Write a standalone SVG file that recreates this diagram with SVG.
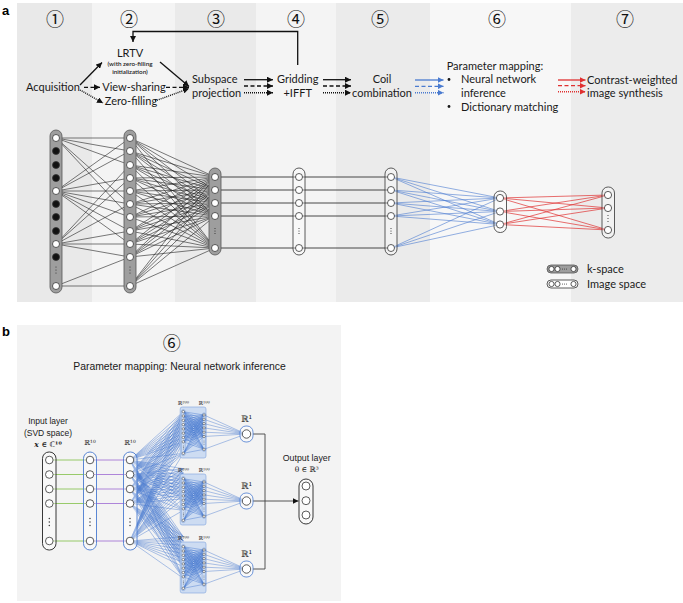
<svg xmlns="http://www.w3.org/2000/svg" xmlns:xlink="http://www.w3.org/1999/xlink" width="683" height="603" viewBox="0 0 683 603">
<defs>
<style>
.t{font-family:Lato,"Liberation Sans",sans-serif;font-size:11px;fill:#1a1a1a}
.tm{text-anchor:middle}
.sm{font-family:Lato,"Liberation Sans",sans-serif;font-size:6.3px;font-weight:600;fill:#1a1a1a;text-anchor:middle}
.cn{font-family:"Noto Sans CJK JP","DejaVu Sans",sans-serif;font-size:18px;text-anchor:middle;fill:#111}
.lbl{font-family:"Liberation Sans",Arial,sans-serif;font-weight:bold;font-size:13px;fill:#000}
.tb{font-family:"Liberation Sans",Arial,sans-serif;fill:#1a1a1a;text-anchor:middle}
.rr{font-family:"DejaVu Serif","DejaVu Sans",serif;fill:#222;text-anchor:middle}
.nd{fill:#fff;stroke:#333;stroke-width:0.8}
.nb{fill:#111;stroke:#333;stroke-width:0.8}
.kc{fill:#9e9e9e;stroke:#555;stroke-width:0.8}
.ic{fill:#fff;fill-opacity:0.35;stroke:#333;stroke-width:0.8}
.dt{fill:#333}
.ln{stroke:#222;stroke-width:0.6;fill:none}
.hl{stroke:#333;stroke-width:0.9;fill:none}
.bl{stroke:#4a7bd0;stroke-width:0.6;fill:none}
.rd{stroke:#e03030;stroke-width:0.7;fill:none}
.bb{stroke:#4a7bd0;stroke-width:0.45;fill:none;vector-effect:non-scaling-stroke}
.so{stroke:#111;stroke-width:1.3;fill:none}
.da{stroke:#111;stroke-width:1.3;fill:none;stroke-dasharray:4 2.5}
.do{stroke:#111;stroke-width:1.4;fill:none;stroke-dasharray:1 1}
.bs{fill:#fff;stroke:#333;stroke-width:0.5}
</style>
<marker id="ak" viewBox="0 0 6 6" refX="6" refY="3" markerUnits="userSpaceOnUse" markerWidth="6" markerHeight="6" orient="auto"><path d="M0 0L6 3L0 6z" fill="#111"/></marker>
<marker id="ab" viewBox="0 0 6 6" refX="6" refY="3" markerUnits="userSpaceOnUse" markerWidth="6" markerHeight="6" orient="auto"><path d="M0 0L6 3L0 6z" fill="#4a7bd0"/></marker>
<marker id="ar" viewBox="0 0 6 6" refX="6" refY="3" markerUnits="userSpaceOnUse" markerWidth="6" markerHeight="6" orient="auto"><path d="M0 0L6 3L0 6z" fill="#e03030"/></marker>
<path id="fanB" class="bb" d="M0 0L53.3 0M0 0L53.3 4.3M0 0L53.3 8.6M0 0L53.3 12.9M0 0L53.3 17.2M0 0L53.3 21.5M0 0L53.3 25.8M0 0L53.3 30.1M0 0L53.3 41.6"/>
<path id="fanIn" class="bb" d="M0 0L20.7 0M0 0L20.7 4.3M0 0L20.7 8.6M0 0L20.7 12.9M0 0L20.7 17.2M0 0L20.7 21.5M0 0L20.7 34.3"/>
<g id="blk">
<rect x="-0.8" y="0" width="25.8" height="51" rx="2" fill="#cddcf2" stroke="#7ea3dd" stroke-width="0.6"/>
<rect x="0.4" y="2.6" width="3.8" height="46" rx="1.9" fill="none" stroke="#5b86cf" stroke-width="0.4"/>
<rect x="21.1" y="5.9" width="3.8" height="38.5" rx="1.9" fill="none" stroke="#5b86cf" stroke-width="0.4"/>
<use xlink:href="#fanIn" transform="matrix(1,0.1594,0,1,2.3,4.7)"/>
<use xlink:href="#fanIn" transform="matrix(1,-0.0483,0,1,2.3,9)"/>
<use xlink:href="#fanIn" transform="matrix(1,-0.2560,0,1,2.3,13.3)"/>
<use xlink:href="#fanIn" transform="matrix(1,-0.4638,0,1,2.3,17.6)"/>
<use xlink:href="#fanIn" transform="matrix(1,-0.6715,0,1,2.3,21.9)"/>
<use xlink:href="#fanIn" transform="matrix(1,-0.8792,0,1,2.3,26.2)"/>
<use xlink:href="#fanIn" transform="matrix(1,-1.0870,0,1,2.3,30.5)"/>
<use xlink:href="#fanIn" transform="matrix(1,-1.2947,0,1,2.3,34.8)"/>
<use xlink:href="#fanIn" transform="matrix(1,-1.8502,0,1,2.3,46.3)"/>
<path class="bb" d="M23 8L65 27M23 12.3L65 27M23 16.6L65 27M23 20.9L65 27M23 25.2L65 27M23 29.5L65 27M23 42.3L65 27"/>
<g class="bs">
<circle cx="2.3" cy="4.7" r="1.2"/><circle cx="2.3" cy="9" r="1.2"/><circle cx="2.3" cy="13.3" r="1.2"/><circle cx="2.3" cy="17.6" r="1.2"/><circle cx="2.3" cy="21.9" r="1.2"/><circle cx="2.3" cy="26.2" r="1.2"/><circle cx="2.3" cy="30.5" r="1.2"/><circle cx="2.3" cy="34.8" r="1.2"/><circle cx="2.3" cy="46.3" r="1.2"/>
<circle cx="23" cy="8" r="1.2"/><circle cx="23" cy="12.3" r="1.2"/><circle cx="23" cy="16.6" r="1.2"/><circle cx="23" cy="20.9" r="1.2"/><circle cx="23" cy="25.2" r="1.2"/><circle cx="23" cy="29.5" r="1.2"/><circle cx="23" cy="42.3" r="1.2"/>
</g>
<g class="dt"><circle cx="2.3" cy="39" r="0.4"/><circle cx="2.3" cy="40.5" r="0.4"/><circle cx="2.3" cy="42" r="0.4"/><circle cx="23" cy="34" r="0.4"/><circle cx="23" cy="35.8" r="0.4"/><circle cx="23" cy="37.6" r="0.4"/></g>
<rect x="59" y="19" width="13" height="16" rx="6" fill="#fff" fill-opacity="0.5" stroke="#4a7bd0" stroke-width="0.8"/>
<circle cx="65.5" cy="27" r="4.2" fill="#fff" stroke="#333" stroke-width="0.8"/>
<text class="rr" x="2.3" y="-2" font-size="5.5">ℝ²⁰⁰</text>
<text class="rr" x="23" y="-2" font-size="5.5">ℝ¹⁰⁰</text>
<text class="rr" x="65.5" y="14.5" font-size="9">ℝ¹</text>
</g>
</defs>

<!-- Panel a background bands -->
<g id="bands">
<rect x="17" y="3" width="75" height="299" fill="#e9e9e9"/>
<rect x="92" y="3" width="83" height="299" fill="#f4f4f4"/>
<rect x="175" y="3" width="81" height="299" fill="#eaeaea"/>
<rect x="256" y="3" width="80" height="299" fill="#f4f4f4"/>
<rect x="336" y="3" width="94" height="299" fill="#ebebeb"/>
<rect x="430" y="3" width="141" height="299" fill="#f7f7f7"/>
<rect x="571" y="3" width="112" height="299" fill="#ececec"/>
</g>
<rect id="panel-b" x="17" y="325" width="324" height="276" fill="#f3f3f3"/>

<text class="lbl" x="2" y="15">a</text>
<text class="lbl" x="2" y="336">b</text>

<!-- Step numbers -->
<g id="steps">
<text class="cn" x="55" y="25.5">①</text>
<text class="cn" x="129" y="25.5">②</text>
<text class="cn" x="216" y="25.5">③</text>
<text class="cn" x="296" y="25.5">④</text>
<text class="cn" x="380" y="25.5">⑤</text>
<text class="cn" x="497" y="25.5">⑥</text>
<text class="cn" x="625" y="25.5">⑦</text>
</g>

<!-- Pipeline text nodes -->
<g id="n-acq"><text class="t" x="26" y="91">Acquisition</text></g>
<g id="n-lrtv"><text class="t tm" x="130" y="57">LRTV</text><text class="sm" x="130" y="66">(with zero-filling</text><text class="sm" x="130" y="74">initialization)</text></g>
<g id="n-vs"><text class="t tm" x="134" y="91" font-size="10.6">View-sharing</text></g>
<g id="n-zf"><text class="t tm" x="131" y="104.5" font-size="10.6">Zero-filling</text></g>
<g id="n-sub"><text class="t" x="192" y="83">Subspace</text><text class="t" x="192" y="96.5">projection</text></g>
<g id="n-grid"><text class="t tm" x="297.7" y="83">Gridding</text><text class="t tm" x="297.7" y="96.5">+IFFT</text></g>
<g id="n-coil"><text class="t tm" x="382" y="83">Coil</text><text class="t tm" x="382" y="96.5">combination</text></g>
<g id="n-pm"><text class="t" x="446.7" y="69.5">Parameter mapping:</text>
<circle cx="449" cy="79.5" r="1.4" fill="#1a1a1a"/><text class="t" x="461" y="83">Neural network</text>
<text class="t" x="461" y="96.5">inference</text>
<circle cx="449" cy="106.5" r="1.4" fill="#1a1a1a"/><text class="t" x="461" y="110.5">Dictionary matching</text></g>
<g id="n-cw"><text class="t" x="587" y="83.5">Contrast-weighted</text><text class="t" x="587" y="97">image synthesis</text></g>

<!-- Pipeline connectors -->
<g id="pipe-arrows">
<path class="so" d="M297.7 65V31.5H133V42" marker-end="url(#ak)"/>
<path class="so" d="M80 85L102 62.5" marker-end="url(#ak)"/>
<path class="da" d="M84 87.3H100" marker-end="url(#ak)"/>
<path class="do" d="M80 90L103 103" marker-end="url(#ak)"/>
<path class="so" d="M160 62L189 86.5" marker-end="url(#ak)"/>
<path class="da" d="M166 87.3H189" marker-end="url(#ak)"/>
<path class="do" d="M155 101L189 88.5" marker-end="url(#ak)"/>
<path class="so" d="M244 79.7H273" marker-end="url(#ak)"/>
<path class="da" d="M244 86H273" marker-end="url(#ak)"/>
<path class="do" d="M244 92.7H273" marker-end="url(#ak)"/>
<path class="so" d="M323 79.7H351" marker-end="url(#ak)"/>
<path class="da" d="M323 86H351" marker-end="url(#ak)"/>
<path class="do" d="M323 92.7H351" marker-end="url(#ak)"/>
<path class="so" style="stroke:#4a7bd0" d="M415 80H443.5" marker-end="url(#ab)"/>
<path class="da" style="stroke:#4a7bd0" d="M415 86.3H443.5" marker-end="url(#ab)"/>
<path class="do" style="stroke:#4a7bd0" d="M415 92.7H443.5" marker-end="url(#ab)"/>
<path class="so" style="stroke:#e03030" d="M558 80H585.5" marker-end="url(#ar)"/>
<path class="da" style="stroke:#e03030" d="M558 85.7H585.5" marker-end="url(#ar)"/>
<path class="do" style="stroke:#e03030" d="M558 91.7H585.5" marker-end="url(#ar)"/>
</g>

<!-- Network connectors (a) -->
<g id="net-a-edges">
<path class="ln" d="M56 138L130 138M56 138L130 151M56 138L130 165M56 138L130 204M56 138L130 217M56 191L130 138M56 191L130 151M56 191L130 178M56 191L130 191M56 191L130 204M56 191L130 217M56 191L130 231M56 191L130 244M56 244L130 165M56 244L130 178M56 244L130 204M56 244L130 231M56 244L130 244M56 244L130 257M56 286L130 257M56 286L130 286"/>
<path class="ln" d="M130 138L215 177M130 138L215 190M130 138L215 203M130 138L215 216M130 138L215 248M130 151L215 177M130 151L215 190M130 151L215 203M130 151L215 216M130 151L215 248M130 165L215 177M130 165L215 190M130 165L215 203M130 165L215 216M130 165L215 248M130 178L215 177M130 178L215 190M130 178L215 203M130 178L215 216M130 178L215 248M130 191L215 177M130 191L215 190M130 191L215 203M130 191L215 216M130 191L215 248M130 204L215 177M130 204L215 190M130 204L215 203M130 204L215 216M130 204L215 248M130 217L215 177M130 217L215 190M130 217L215 203M130 217L215 216M130 217L215 248M130 231L215 177M130 231L215 190M130 231L215 203M130 231L215 216M130 231L215 248M130 244L215 177M130 244L215 190M130 244L215 203M130 244L215 216M130 244L215 248M130 257L215 177M130 257L215 190M130 257L215 203M130 257L215 216M130 257L215 248M130 286L215 177M130 286L215 190M130 286L215 203M130 286L215 216M130 286L215 248"/>
<path class="hl" d="M215 177H391M215 190H391M215 203H391M215 216H391M215 248H391"/>
<path class="bl" d="M391 177L500 198M391 177L500 211.5M391 177L500 224.5M391 190L500 198M391 190L500 211.5M391 190L500 224.5M391 203L500 198M391 203L500 211.5M391 203L500 224.5M391 216L500 198M391 216L500 211.5M391 216L500 224.5M391 248L500 198M391 248L500 211.5M391 248L500 224.5"/>
<path class="rd" d="M500 198L608 195M500 198L608 208M500 198L608 230M500 211.5L608 195M500 211.5L608 208M500 211.5L608 230M500 224.5L608 195M500 224.5L608 208M500 224.5L608 230"/>
</g>

<!-- Network nodes (a) -->
<g id="a-col1">
<rect class="kc" x="50" y="130" width="12" height="163" rx="6"/>
<circle class="nd" cx="56" cy="138" r="3.5"/><circle class="nb" cx="56" cy="151" r="3.5"/><circle class="nb" cx="56" cy="165" r="3.5"/><circle class="nb" cx="56" cy="178" r="3.5"/><circle class="nd" cx="56" cy="191" r="3.5"/><circle class="nb" cx="56" cy="204" r="3.5"/><circle class="nb" cx="56" cy="217" r="3.5"/><circle class="nb" cx="56" cy="231" r="3.5"/><circle class="nd" cx="56" cy="244" r="3.5"/><circle class="nb" cx="56" cy="257" r="3.5"/><circle class="nd" cx="56" cy="286" r="3.5"/>
<g class="dt"><circle cx="56" cy="267" r="0.6"/><circle cx="56" cy="270" r="0.6"/><circle cx="56" cy="273" r="0.6"/></g>
</g>
<g id="a-col2">
<rect class="kc" x="124" y="130" width="12" height="163" rx="6"/>
<circle class="nd" cx="130" cy="138" r="3.5"/><circle class="nd" cx="130" cy="151" r="3.5"/><circle class="nd" cx="130" cy="165" r="3.5"/><circle class="nd" cx="130" cy="178" r="3.5"/><circle class="nd" cx="130" cy="191" r="3.5"/><circle class="nd" cx="130" cy="204" r="3.5"/><circle class="nd" cx="130" cy="217" r="3.5"/><circle class="nd" cx="130" cy="231" r="3.5"/><circle class="nd" cx="130" cy="244" r="3.5"/><circle class="nd" cx="130" cy="257" r="3.5"/><circle class="nd" cx="130" cy="286" r="3.5"/>
<g class="dt"><circle cx="130" cy="267" r="0.6"/><circle cx="130" cy="270" r="0.6"/><circle cx="130" cy="273" r="0.6"/></g>
</g>
<g id="a-col3">
<rect class="kc" x="209" y="168" width="12" height="87" rx="6"/>
<circle class="nd" cx="215" cy="177" r="3.5"/><circle class="nd" cx="215" cy="190" r="3.5"/><circle class="nd" cx="215" cy="203" r="3.5"/><circle class="nd" cx="215" cy="216" r="3.5"/><circle class="nd" cx="215" cy="248" r="3.5"/>
<g class="dt"><circle cx="215" cy="228.5" r="0.6"/><circle cx="215" cy="231" r="0.6"/><circle cx="215" cy="233.5" r="0.6"/></g>
</g>
<g id="a-col4">
<rect class="ic" x="293" y="168" width="12" height="87" rx="6"/>
<circle class="nd" cx="299" cy="177" r="3.5"/><circle class="nd" cx="299" cy="190" r="3.5"/><circle class="nd" cx="299" cy="203" r="3.5"/><circle class="nd" cx="299" cy="216" r="3.5"/><circle class="nd" cx="299" cy="248" r="3.5"/>
<g class="dt"><circle cx="299" cy="228.5" r="0.6"/><circle cx="299" cy="231" r="0.6"/><circle cx="299" cy="233.5" r="0.6"/></g>
</g>
<g id="a-col5">
<rect class="ic" x="385" y="168" width="12" height="87" rx="6"/>
<circle class="nd" cx="391" cy="177" r="3.5"/><circle class="nd" cx="391" cy="190" r="3.5"/><circle class="nd" cx="391" cy="203" r="3.5"/><circle class="nd" cx="391" cy="216" r="3.5"/><circle class="nd" cx="391" cy="248" r="3.5"/>
<g class="dt"><circle cx="391" cy="228.5" r="0.6"/><circle cx="391" cy="231" r="0.6"/><circle cx="391" cy="233.5" r="0.6"/></g>
</g>
<g id="a-col6">
<rect class="ic" x="494" y="191" width="12.5" height="41.5" rx="6"/>
<circle class="nd" cx="500" cy="198" r="3.6"/><circle class="nd" cx="500" cy="211.5" r="3.6"/><circle class="nd" cx="500" cy="224.5" r="3.6"/>
</g>
<g id="a-col7">
<rect class="ic" x="602" y="187" width="12.5" height="51" rx="6"/>
<circle class="nd" cx="608" cy="195" r="3.6"/><circle class="nd" cx="608" cy="208" r="3.6"/><circle class="nd" cx="608" cy="230" r="3.6"/>
<g class="dt"><circle cx="608" cy="215.5" r="0.6"/><circle cx="608" cy="218.5" r="0.6"/><circle cx="608" cy="221.5" r="0.6"/></g>
</g>

<!-- Legend -->
<g id="legend">
<rect class="kc" x="547" y="265" width="31" height="8" rx="4"/>
<circle class="nd" cx="551.5" cy="269" r="2.6"/><circle class="nd" cx="557.5" cy="269" r="2.6"/><circle class="nd" cx="573.5" cy="269" r="2.6"/>
<g class="dt"><circle cx="562.5" cy="269" r="0.5"/><circle cx="564.5" cy="269" r="0.5"/><circle cx="566.5" cy="269" r="0.5"/></g>
<rect class="ic" x="547" y="280" width="31" height="8" rx="4" style="fill-opacity:1"/>
<circle class="nd" cx="551.5" cy="284" r="2.6"/><circle class="nd" cx="557.5" cy="284" r="2.6"/><circle class="nd" cx="573.5" cy="284" r="2.6"/>
<g class="dt"><circle cx="562.5" cy="284" r="0.5"/><circle cx="564.5" cy="284" r="0.5"/><circle cx="566.5" cy="284" r="0.5"/></g>
<text class="t" x="587" y="273">k-space</text>
<text class="t" x="587" y="288">Image space</text>
</g>

<!-- Panel b -->
<text class="cn" x="171.7" y="349.5">⑥</text>
<text class="tb" x="179.5" y="370" font-size="10.4">Parameter mapping: Neural network inference</text>
<g id="b-labels">
<text class="tb" x="48" y="424" font-size="8.5">Input layer</text>
<text class="tb" x="48" y="435.5" font-size="8.5">(SVD space)</text>
<text class="rr" x="48" y="446.5" font-size="7.5" font-weight="bold"><tspan font-style="italic">x</tspan> ∈ ℂ¹⁰</text>
<text class="rr" x="90" y="445" font-size="7">ℝ¹⁰</text>
<text class="rr" x="130" y="445" font-size="7">ℝ¹⁰</text>
<text class="tb" x="306.7" y="461" font-size="8.8">Output layer</text>
<text class="rr" x="306.7" y="472" font-size="7.5">θ ∈ ℝ³</text>
</g>

<g id="net-b-edges">
<path stroke="#8dc55a" stroke-width="0.9" fill="none" d="M49.3 460H90M49.3 474.5H90M49.3 489H90M49.3 503.5H90M49.3 541H90"/>
<path stroke="#a678d6" stroke-width="0.9" fill="none" d="M90 460H130M90 474.5H130M90 489H130M90 503.5H130M90 541H130"/>
<use xlink:href="#fanB" transform="matrix(1,-0.9062,0,1,130,460)"/>
<use xlink:href="#fanB" transform="matrix(1,-1.1782,0,1,130,474.5)"/>
<use xlink:href="#fanB" transform="matrix(1,-1.4503,0,1,130,489)"/>
<use xlink:href="#fanB" transform="matrix(1,-1.7223,0,1,130,503.5)"/>
<use xlink:href="#fanB" transform="matrix(1,-2.4259,0,1,130,541)"/>
<use xlink:href="#fanB" transform="matrix(1,0.1632,0,1,130,460)"/>
<use xlink:href="#fanB" transform="matrix(1,-0.1088,0,1,130,474.5)"/>
<use xlink:href="#fanB" transform="matrix(1,-0.3809,0,1,130,489)"/>
<use xlink:href="#fanB" transform="matrix(1,-0.6529,0,1,130,503.5)"/>
<use xlink:href="#fanB" transform="matrix(1,-1.3565,0,1,130,541)"/>
<use xlink:href="#fanB" transform="matrix(1,1.4390,0,1,130,460)"/>
<use xlink:href="#fanB" transform="matrix(1,1.1670,0,1,130,474.5)"/>
<use xlink:href="#fanB" transform="matrix(1,0.8949,0,1,130,489)"/>
<use xlink:href="#fanB" transform="matrix(1,0.6229,0,1,130,503.5)"/>
<use xlink:href="#fanB" transform="matrix(1,-0.0807,0,1,130,541)"/>
<path stroke="#444" stroke-width="0.9" fill="none" d="M253 434H265V569H253"/>
<path stroke="#444" stroke-width="0.9" fill="none" d="M253 501H298.5" marker-end="url(#ak)"/>
</g>

<g id="b-input">
<rect x="42.5" y="452" width="13.5" height="98" rx="6.5" fill="#fff" fill-opacity="0.4" stroke="#222" stroke-width="0.9"/>
<circle class="nd" cx="49.3" cy="460" r="3.8"/><circle class="nd" cx="49.3" cy="474.5" r="3.8"/><circle class="nd" cx="49.3" cy="489" r="3.8"/><circle class="nd" cx="49.3" cy="503.5" r="3.8"/><circle class="nd" cx="49.3" cy="541" r="3.8"/>
<g class="dt"><circle cx="49.3" cy="518.5" r="0.7"/><circle cx="49.3" cy="522" r="0.7"/><circle cx="49.3" cy="525.5" r="0.7"/></g>
</g>
<g id="b-h1">
<rect x="83.5" y="452" width="13" height="98" rx="6.5" fill="#fff" fill-opacity="0.4" stroke="#4a7bd0" stroke-width="0.9"/>
<circle class="nd" cx="90" cy="460" r="3.8"/><circle class="nd" cx="90" cy="474.5" r="3.8"/><circle class="nd" cx="90" cy="489" r="3.8"/><circle class="nd" cx="90" cy="503.5" r="3.8"/><circle class="nd" cx="90" cy="541" r="3.8"/>
<g class="dt"><circle cx="90" cy="518.5" r="0.7"/><circle cx="90" cy="522" r="0.7"/><circle cx="90" cy="525.5" r="0.7"/></g>
</g>
<g id="b-h2">
<rect x="123.5" y="452" width="13.5" height="98" rx="6.5" fill="#fff" fill-opacity="0.4" stroke="#4a7bd0" stroke-width="0.9"/>
<circle class="nd" cx="130" cy="460" r="3.8"/><circle class="nd" cx="130" cy="474.5" r="3.8"/><circle class="nd" cx="130" cy="489" r="3.8"/><circle class="nd" cx="130" cy="503.5" r="3.8"/><circle class="nd" cx="130" cy="541" r="3.8"/>
<g class="dt"><circle cx="130" cy="518.5" r="0.7"/><circle cx="130" cy="522" r="0.7"/><circle cx="130" cy="525.5" r="0.7"/></g>
</g>
<use id="b-sub1" xlink:href="#blk" x="181" y="407"/>
<use id="b-sub2" xlink:href="#blk" x="181" y="474"/>
<use id="b-sub3" xlink:href="#blk" x="181" y="542"/>
<g id="b-output">
<rect x="299" y="479" width="14" height="45" rx="7" fill="#fff" fill-opacity="0.4" stroke="#222" stroke-width="0.9"/>
<circle class="nd" cx="306" cy="486" r="4"/><circle class="nd" cx="306" cy="500.7" r="4"/><circle class="nd" cx="306" cy="515" r="4"/>
</g>
</svg>
